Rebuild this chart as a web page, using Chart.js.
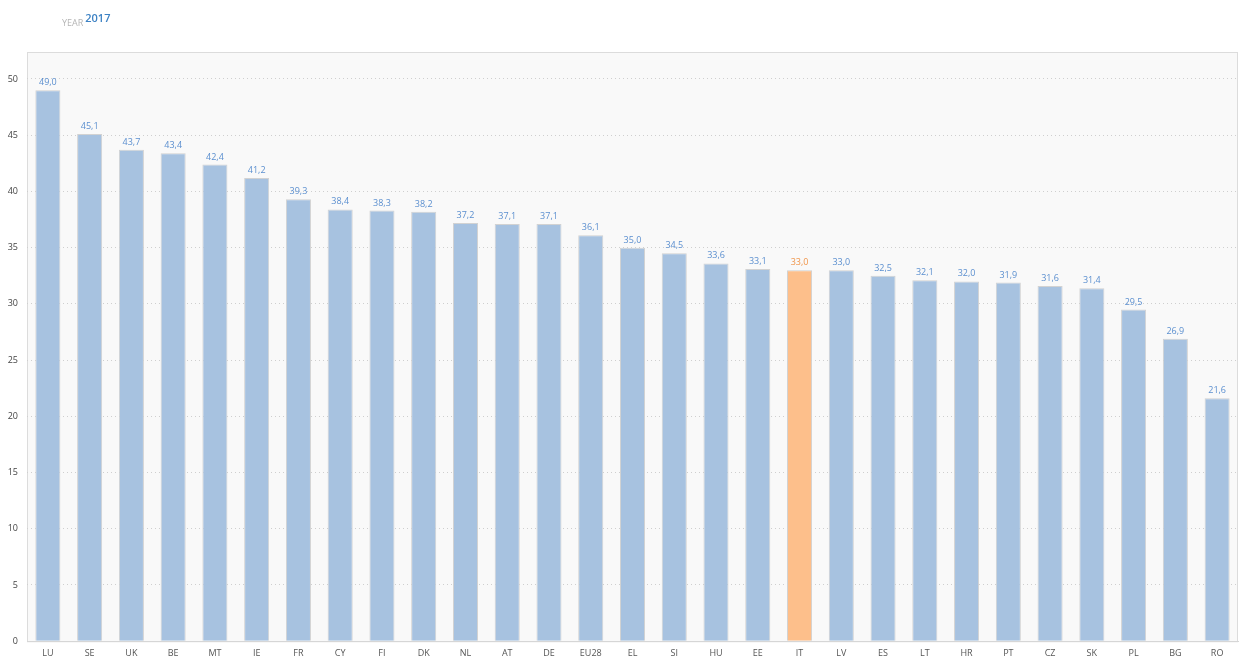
<!DOCTYPE html>
<html>
<head>
<meta charset="utf-8">
<script src="https://cdn.jsdelivr.net/npm/chart.js@4/dist/chart.umd.min.js"></script>
<style>
  html, body { margin: 0; padding: 0; background: #fff; overflow: hidden; }
  #wrap { position: relative; width: 1239px; height: 657px; }
  #grafico { display: block; }
  #head { position: absolute; left: 62px; top: 8px; font-family: "Open Sans", Arial, sans-serif; line-height: 16px; }
  #head .lbl { font-size: 9px; color: #b5b5b5; position: relative; top: 4px; }
  #head .yr { font-size: 11px; color: #3d82c4; font-weight: 600; margin-left: 2px; }
</style>
</head>
<body>
<div id="wrap">
  <canvas id="grafico" width="1239" height="657"></canvas>
  <div id="head"><span class="lbl">YEAR</span><span class="yr">2017</span></div>
</div>
<script>
const paesi = ["LU", "SE", "UK", "BE", "MT", "IE", "FR", "CY", "FI", "DK", "NL", "AT", "DE", "EU28", "EL", "SI", "HU", "EE", "IT", "LV", "ES", "LT", "HR", "PT", "CZ", "SK", "PL", "BG", "RO"];
const valori = [49.0, 45.1, 43.7, 43.4, 42.4, 41.2, 39.3, 38.4, 38.3, 38.2, 37.2, 37.1, 37.1, 36.1, 35.0, 34.5, 33.6, 33.1, 33.0, 33.0, 32.5, 32.1, 32.0, 31.9, 31.6, 31.4, 29.5, 26.9, 21.6];
const evidenziato = "IT";

const coloreBarra = "#a7c2e0";
const coloreEvid = "#fdbf8b";

// sfondo e cornice dell'area grafico
const sfondo = {
  id: "sfondo",
  beforeDraw(chart) {
    const { ctx, chartArea: a } = chart;
    ctx.save();
    ctx.fillStyle = "#f9f9f9";
    ctx.fillRect(a.left, a.top, a.right - a.left, a.bottom - a.top);
    ctx.strokeStyle = "#dcdcdc";
    ctx.lineWidth = 1;
    ctx.strokeRect(a.left + 0.5, a.top + 0.5, a.right - a.left - 1, a.bottom - a.top);
    ctx.restore();
  }
};

// etichette dei valori sopra le barre
const etichette = {
  id: "etichette",
  afterDatasetsDraw(chart) {
    const { ctx } = chart;
    const meta = chart.getDatasetMeta(0);
    ctx.save();
    ctx.font = "9px 'Open Sans', Arial, sans-serif";
    ctx.textAlign = "center";
    ctx.textBaseline = "bottom";
    meta.data.forEach((bar, i) => {
      ctx.fillStyle = paesi[i] === evidenziato ? "#f0954a" : "#5b8fcf";
      ctx.fillText(valori[i].toFixed(1).replace(".", ","), bar.x, bar.y - 3);
    });
    ctx.restore();
  }
};

new Chart(document.getElementById("grafico").getContext("2d"), {
  type: "bar",
  data: {
    labels: paesi,
    datasets: [{
      data: valori,
      backgroundColor: paesi.map(p => p === evidenziato ? coloreEvid : coloreBarra),
      borderColor: "#d2d2d2",
      borderWidth: 1,
      borderSkipped: "bottom",
      barPercentage: 0.6,
      categoryPercentage: 1.0
    }]
  },
  options: {
    responsive: false,
    animation: false,
    layout: { padding: { top: 52, right: 1, left: 0, bottom: -9 } },
    plugins: {
      legend: { display: false },
      tooltip: { enabled: false }
    },
    scales: {
      x: {
        grid: { display: false, drawTicks: false },
        border: { color: "#d6d6d6" },
        ticks: { color: "#555", font: { size: 9, family: "'Open Sans', Arial, sans-serif" }, padding: 7, maxRotation: 0, autoSkip: false }
      },
      y: {
        min: 0,
        max: 52.4,
        ticks: { stepSize: 5, color: "#444", font: { size: 9, family: "'Open Sans', Arial, sans-serif" }, padding: 9 },
        afterBuildTicks(scale) { scale.ticks = scale.ticks.filter(t => t.value % 5 === 0); },
        afterFit(scale) { scale.width = 27; },
        grid: { color: "#cfcfcf", drawTicks: false, lineWidth: 1 },
        border: { display: false, dash: [1, 3] }
      }
    }
  },
  plugins: [sfondo, etichette]
});
</script>
</body>
</html>
